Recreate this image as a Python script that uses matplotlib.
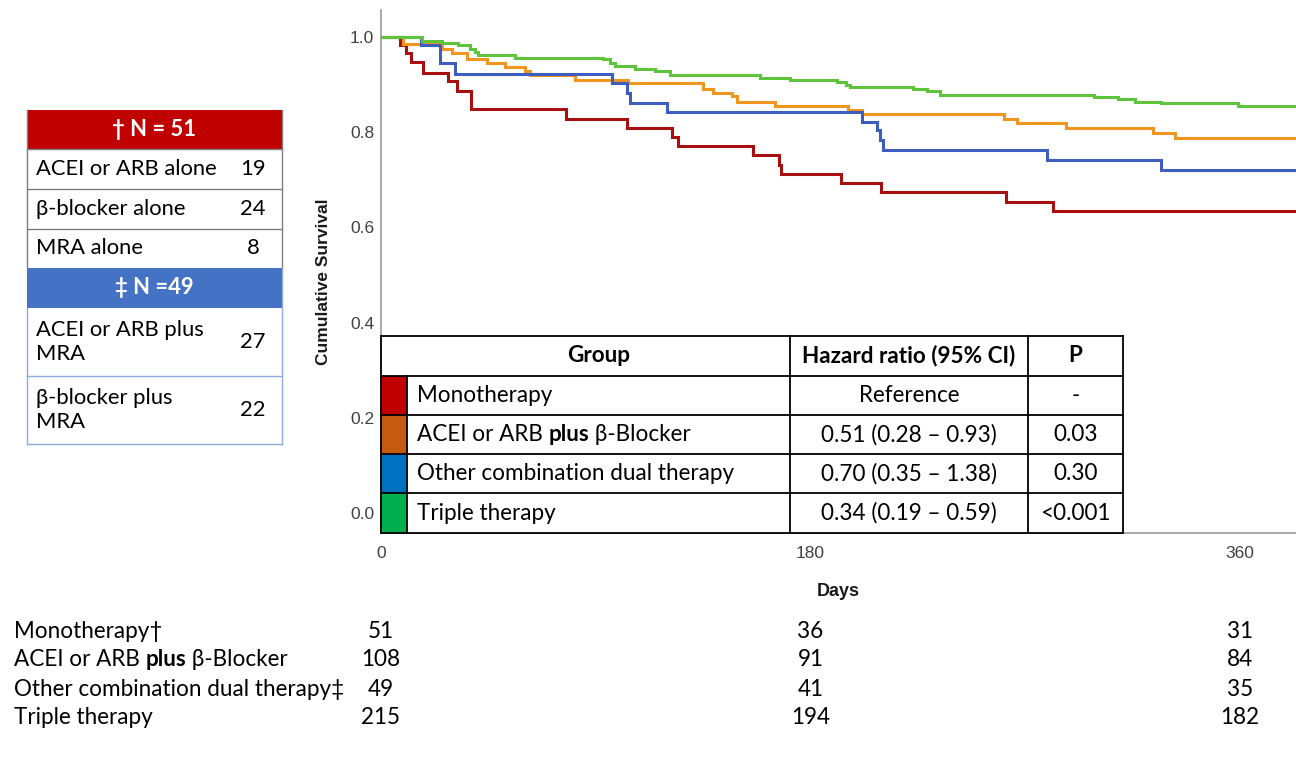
import matplotlib
matplotlib.use('Agg')
import matplotlib.pyplot as plt
from matplotlib.patches import Rectangle
import matplotlib.transforms as mtrans

# ---------------- data ----------------
group_labels = ["Monotherapy", "ACEI or ARB **plus** β-Blocker",
                "Other combination dual therapy", "Triple therapy"]
risk_labels = ["Monotherapy†", "ACEI or ARB **plus** β-Blocker",
               "Other combination dual therapy‡", "Triple therapy"]

mono_t = [0, 7.8, 10.5, 12.6, 17.6, 28, 32, 37.7, 77.5, 103, 122, 124.5, 156, 167,
          167.6, 193, 209.6, 262, 281.6]
mono_s = [1.0, 0.984, 0.966, 0.947, 0.924, 0.908, 0.887, 0.849, 0.828, 0.809, 0.790,
          0.771, 0.752, 0.731, 0.712, 0.693, 0.674, 0.653, 0.634]

acei_bb_t = [0, 9.2, 25.4, 29.6, 35.9, 44.3, 52, 60.4, 62.5, 81.3, 103.5, 135, 139, 147,
             149, 165, 195.6, 201.5, 261, 266.4, 287, 323.7, 332.8]
acei_bb_s = [1.0, 0.985, 0.974, 0.966, 0.955, 0.946, 0.938, 0.929, 0.920, 0.910, 0.903,
             0.892, 0.883, 0.876, 0.864, 0.855, 0.847, 0.838, 0.827, 0.819, 0.808, 0.799,
             0.789]

other_t = [0, 16.8, 24.7, 31, 97, 103, 104.5, 120, 201.6, 208, 209, 210.4, 279, 327]
other_s = [1.0, 0.984, 0.945, 0.922, 0.903, 0.882, 0.861, 0.842, 0.821, 0.805, 0.784,
           0.763, 0.742, 0.721]

triple_t = [0, 17, 25.4, 32.4, 37.3, 39.4, 40.8, 56.2, 93.2, 96, 98, 106.5, 114.8, 121,
            158.8, 171.4, 191, 195, 196.6, 223, 228.7, 234.3, 298.8, 309, 316, 327, 359]
triple_s = [1.0, 0.992, 0.987, 0.983, 0.976, 0.969, 0.962, 0.957, 0.953, 0.946, 0.939,
            0.934, 0.929, 0.920, 0.915, 0.910, 0.906, 0.899, 0.896, 0.891, 0.887, 0.878,
            0.874, 0.869, 0.864, 0.861, 0.855]

follow_up_end = 383

hr_text = ["Reference", "0.51 (0.28 – 0.93)", "0.70 (0.35 – 1.38)", "0.34 (0.19 – 0.59)"]
p_text = ["-", "0.03", "0.30", "<0.001"]
hr_headers = ["Group", "Hazard ratio (95% CI)", "P"]

risk_days = [0, 180, 360]
risk_mono = [51, 36, 31]
risk_acei_bb = [108, 91, 84]
risk_other = [49, 41, 35]
risk_triple = [215, 194, 182]

mono_header = "† N = 51"
mono_parts = ["ACEI or ARB alone", "β-blocker alone", "MRA alone"]
mono_parts_n = [19, 24, 8]
dual_header = "‡ N =49"
dual_parts = ["ACEI or ARB plus\nMRA", "β-blocker plus\nMRA"]
dual_parts_n = [27, 22]

yticks = [0.0, 0.2, 0.4, 0.6, 0.8, 1.0]
xticks = [0, 180, 360]

# ---------------- style ----------------
line_colors = ["#A81010", "#F0961E", "#3D5DC0", "#5DC43C"]
swatch_colors = ["#C00000", "#C55A11", "#0070C0", "#00B050"]
TFONT = ["Lato", "Noto Sans", "DejaVu Sans"]
AFONT = ["Liberation Sans", "DejaVu Sans"]

W, H = 1296, 767
fig = plt.figure(figsize=(W / 100, H / 100), dpi=100)
renderer = fig.canvas.get_renderer()

# KM axes
x0, x1 = 381, 1296
y_top, y_bot = 10, 533
ax = fig.add_axes([x0 / W, (H - y_bot) / H, (x1 - x0) / W, (y_bot - y_top) / H])
series = [(mono_t, mono_s), (acei_bb_t, acei_bb_s), (other_t, other_s), (triple_t, triple_s)]
for (t, s), c in zip(series, line_colors):
    ax.step(list(t) + [follow_up_end], list(s) + [s[-1]], where='post', color=c,
            lw=2.2, solid_joinstyle='miter')
ax.set_xlim(0, 383.5)
ax.set_ylim(-0.042, 1.057)
ax.set_yticks(yticks)
ax.set_yticklabels([f"{v:.1f}" for v in yticks])
ax.set_xticks(xticks)
ax.set_xticklabels([str(v) for v in xticks])
for sp in ["top", "right"]:
    ax.spines[sp].set_visible(False)
for sp in ["left", "bottom"]:
    ax.spines[sp].set_color("#9a9a9a")
    ax.spines[sp].set_linewidth(1.2)
ax.tick_params(axis='y', length=0, pad=5, labelsize=12.5, labelcolor="#404040")
ax.tick_params(axis='x', length=0, pad=9, labelsize=12.5, labelcolor="#404040")
for lab in ax.get_xticklabels() + ax.get_yticklabels():
    lab.set_family(AFONT)
ax.set_facecolor("none")

# overlay in pixel coordinates
ov = fig.add_axes([0, 0, 1, 1])
ov.set_xlim(0, W)
ov.set_ylim(H, 0)
ov.axis('off')
ov.set_facecolor('none')

fig.text(324 / W, 1 - 282 / H, "Cumulative Survival", rotation=90, ha='center', va='center',
         fontsize=12.5, fontweight='bold', family=AFONT, color="#1a1a1a")
fig.text(838 / W, 1 - 592 / H, "Days", ha='center', va='center',
         fontsize=13, fontweight='bold', family=AFONT, color="#1a1a1a")


def fit_size(text, target_px, weight='normal'):
    t = fig.text(0, 0, text, fontsize=10, family=TFONT, fontweight=weight)
    w = t.get_window_extent(renderer).width
    t.remove()
    return 10 * target_px / w


def rich_text(x, y, label, size, ha='left', color='black'):
    """Draw text with **bold** segments on overlay; x,y in overlay pixel coords."""
    parts = label.split("**")
    segs = [(p, 'bold' if i % 2 else 'normal') for i, p in enumerate(parts) if p]
    widths = []
    for txt, wgt in segs:
        t = ov.text(0, 0, txt.replace(" ", "\u00a0"), fontsize=size, family=TFONT, fontweight=wgt)
        widths.append(t.get_window_extent(renderer).width)
        t.remove()
    total = sum(widths)
    cx = x - total / 2 if ha == 'center' else x
    for (txt, wgt), w in zip(segs, widths):
        ov.text(cx, y, txt.replace(" ", "\u00a0"), fontsize=size, family=TFONT, fontweight=wgt,
                ha='left', va='center', color=color, zorder=4)
        cx += w


tsize = fit_size("Monotherapy", 136)

# -------- hazard ratio table --------
col_x = [381, 407, 790, 1028, 1123]
row_y = [336, 376, 415, 454, 493, 533]
ov.add_patch(Rectangle((col_x[0], row_y[0]), col_x[-1] - col_x[0], row_y[-1] - row_y[0],
                       facecolor='white', edgecolor='none', zorder=1))
for i, c in enumerate(swatch_colors):
    ov.add_patch(Rectangle((col_x[0], row_y[i + 1]), col_x[1] - col_x[0],
                           row_y[i + 2] - row_y[i + 1], facecolor=c, edgecolor='none', zorder=2))
lw = 1.3
for y in row_y:
    ov.plot([col_x[0], col_x[-1]], [y, y], color='black', lw=lw, zorder=3)
ov.plot([col_x[0], col_x[0]], [row_y[0], row_y[-1]], color='black', lw=lw, zorder=3)
ov.plot([col_x[1], col_x[1]], [row_y[1], row_y[-1]], color='black', lw=lw, zorder=3)
for x in col_x[2:]:
    ov.plot([x, x], [row_y[0], row_y[-1]], color='black', lw=lw, zorder=3)

hy = (row_y[0] + row_y[1]) / 2
ov.text((col_x[0] + col_x[2]) / 2 + 13, hy, hr_headers[0], fontsize=tsize, family=TFONT,
        fontweight='bold', ha='center', va='center', zorder=4)
ov.text((col_x[2] + col_x[3]) / 2, hy, hr_headers[1], fontsize=tsize, family=TFONT,
        fontweight='bold', ha='center', va='center', zorder=4)
ov.text((col_x[3] + col_x[4]) / 2, hy, hr_headers[2], fontsize=tsize, family=TFONT,
        fontweight='bold', ha='center', va='center', zorder=4)
for i in range(4):
    yc = (row_y[i + 1] + row_y[i + 2]) / 2
    rich_text(417, yc, group_labels[i], tsize)
    ov.text((col_x[2] + col_x[3]) / 2, yc, hr_text[i], fontsize=tsize, family=TFONT,
            ha='center', va='center', zorder=4)
    ov.text((col_x[3] + col_x[4]) / 2, yc, p_text[i], fontsize=tsize, family=TFONT,
            ha='center', va='center', zorder=4)

# -------- left breakdown table --------
lx0, lx1 = 27, 282
num_x = 253
ly = [110, 149, 189, 229, 268, 308, 376, 444]
lsize = fit_size("ACEI or ARB alone", 181)
ov.add_patch(Rectangle((lx0, ly[0]), lx1 - lx0, ly[1] - ly[0], facecolor="#C00000",
                       edgecolor="none"))
ov.add_patch(Rectangle((lx0, ly[4]), lx1 - lx0, ly[5] - ly[4], facecolor="#4472C4",
                       edgecolor="none"))
ov.text((lx0 + lx1) / 2, (ly[0] + ly[1]) / 2, mono_header, color='white', fontsize=lsize,
        fontweight='bold', family=TFONT, ha='center', va='center')
ov.text((lx0 + lx1) / 2, (ly[4] + ly[5]) / 2, dual_header, color='white', fontsize=lsize,
        fontweight='bold', family=TFONT, ha='center', va='center')
gcol = "#7f7f7f"
bcol = "#8EAADB"
for y in ly[1:4]:
    ov.plot([lx0, lx1], [y, y], color=gcol, lw=1.0)
ov.plot([lx0, lx0], [ly[0], ly[4]], color=gcol, lw=1.0)
ov.plot([lx1, lx1], [ly[0], ly[4]], color=gcol, lw=1.0)
for y in ly[6:]:
    ov.plot([lx0, lx1], [y, y], color=bcol, lw=1.0)
ov.plot([lx0, lx0], [ly[5], ly[7]], color=bcol, lw=1.0)
ov.plot([lx1, lx1], [ly[4], ly[7]], color=bcol, lw=1.0)
for i, (lab, n) in enumerate(zip(mono_parts, mono_parts_n)):
    yc = (ly[i + 1] + ly[i + 2]) / 2
    ov.text(36, yc, lab, fontsize=lsize, family=TFONT, ha='left', va='center')
    ov.text(num_x, yc, str(n), fontsize=lsize, family=TFONT, ha='center', va='center')
for i, (lab, n) in enumerate(zip(dual_parts, dual_parts_n)):
    yc = (ly[i + 5] + ly[i + 6]) / 2
    ov.text(36, yc, lab, fontsize=lsize, family=TFONT, ha='left', va='center', linespacing=1.3)
    ov.text(num_x, yc, str(n), fontsize=lsize, family=TFONT, ha='center', va='center')

# -------- numbers at risk --------
risk_rows = [risk_mono, risk_acei_bb, risk_other, risk_triple]
risk_y = [631, 660, 689, 718]
btrans = mtrans.blended_transform_factory(ax.transData, ov.transData)
for lab, vals, y in zip(risk_labels, risk_rows, risk_y):
    rich_text(14, y, lab, tsize)
    for d, v in zip(risk_days, vals):
        ov.text(d, y, str(v), transform=btrans, fontsize=tsize, family=TFONT,
                ha='center', va='center')

fig.savefig("out.png", dpi=100, facecolor='white')
